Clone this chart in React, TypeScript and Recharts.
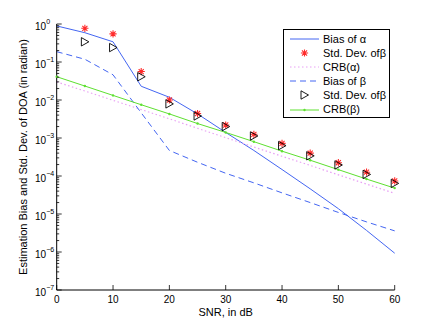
import React from 'react';
import { LineChart, Line, XAxis, YAxis, Legend } from 'recharts';

const snr = [0, 5, 10, 15, 20, 25, 30, 35, 40, 45, 50, 55, 60];
const biasAlpha = [0.89, 0.59, 0.34, 0.023, 0.0118, 0.0043, 0.0014, 4.7e-4, 1.48e-4, 4.6e-5, 1.38e-5, 3.7e-6, 9.3e-7];
const biasBeta = [0.187, 0.118, 0.046, 0.0046, 4.7e-4, 2.3e-4, 1.18e-4, 6.6e-5, 3.6e-5, 2.0e-5, 1.1e-5, 6.2e-6, 3.6e-6];
const crbAlpha = [0.03, 0.0172, 0.0098, 0.0056, 0.0032, 0.0018, 0.00102, 5.8e-4, 3.3e-4, 1.9e-4, 1.07e-4, 6.1e-5, 3.5e-5];
const crbBeta = [0.041, 0.0233, 0.0132, 0.0075, 0.0043, 0.0024, 0.0014, 8.0e-4, 4.5e-4, 2.6e-4, 1.47e-4, 8.3e-5, 4.8e-5];
const stdStar = [null, 0.77, 0.55, 0.056, 0.01, 0.0044, 0.0022, 0.00125, 7.2e-4, 4.0e-4, 2.24e-4, 1.26e-4, 7.4e-5];
const stdTri = [null, 0.34, 0.24, 0.041, 0.0079, 0.0038, 0.002, 0.00113, 6.3e-4, 3.4e-4, 1.95e-4, 1.1e-4, 6.4e-5];

const xTicks = [0, 10, 20, 30, 40, 50, 60];
const yDecades = [-7, -6, -5, -4, -3, -2, -1, 0];
const legendLabels = ['Bias of α', 'Std. Dev. ofβ', 'CRB(α)', 'Bias of β', 'Std. Dev. ofβ', 'CRB(β)'];
const xLabel = 'SNR, in dB';
const yLabel = 'Estimation Bias and Std. Dev. of DOA (in radian)';

const BLUE = '#4466f2';
const PINK = '#e8a0f4';
const GREEN = '#5ee030';
const RED = '#ff2a2a';
const FONT = '"Liberation Sans", Arial, Helvetica, sans-serif';

const data = snr.map((s, i) => ({
  snr: s,
  biasAlpha: biasAlpha[i],
  stdStar: stdStar[i],
  crbAlpha: crbAlpha[i],
  biasBeta: biasBeta[i],
  stdTri: stdTri[i],
  crbBeta: crbBeta[i],
}));

const yMajor = yDecades.map((d) => Number(`1e${d}`));
const yMinor: number[] = [];
yDecades.forEach((d) => {
  if (d < 0) {
    for (let m = 2; m <= 9; m++) yMinor.push(Number(`${m}e${d}`));
  }
});
const yAllTicks = [...yMajor, ...yMinor].sort((a, b) => a - b);
const isMajor = (v: number) => {
  const l = Math.log10(v);
  return Math.abs(l - Math.round(l)) < 1e-6;
};

const LeftTick = (props: any) => {
  const { x, y, payload } = props;
  const v = payload.value;
  const major = isMajor(v);
  const exp = Math.round(Math.log10(v));
  return (
    <g>
      <line x1={x} y1={y} x2={x + (major ? 5 : 2.5)} y2={y} stroke="#000" strokeWidth={0.8} />
      {major && (
        <text x={x - 21.7} y={y + 5.5} fontSize={10} fontFamily={FONT} fill="#000" textAnchor="start">
          <tspan>10</tspan>
          <tspan dy={-6} fontSize={7}>{exp === 0 ? '0' : `−${-exp}`}</tspan>
        </text>
      )}
    </g>
  );
};

const RightTick = (props: any) => {
  const { x, y, payload } = props;
  const major = isMajor(payload.value);
  return <line x1={x} y1={y} x2={x - (major ? 5 : 2.5)} y2={y} stroke="#000" strokeWidth={0.8} />;
};

const BottomTick = (props: any) => {
  const { x, y, payload } = props;
  return (
    <g>
      <line x1={x} y1={y} x2={x} y2={y - 5} stroke="#000" strokeWidth={0.8} />
      <text x={x} y={y + 12.7} fontSize={10} fontFamily={FONT} fill="#000" textAnchor="middle">
        {payload.value}
      </text>
    </g>
  );
};

const TopTick = (props: any) => {
  const { x, y } = props;
  return <line x1={x} y1={y} x2={x} y2={y + 5} stroke="#000" strokeWidth={0.8} />;
};

const starPath = (cx: number, cy: number, r: number) => {
  const d = r * 0.7071;
  return `M${cx - r},${cy}L${cx + r},${cy}M${cx},${cy - r}L${cx},${cy + r}M${cx - d},${cy - d}L${cx + d},${cy + d}M${cx - d},${cy + d}L${cx + d},${cy - d}`;
};
const triPath = (cx: number, cy: number) =>
  `M${cx - 3.5},${cy - 4.2}L${cx + 4},${cy}L${cx - 3.5},${cy + 4.2}Z`;

const StarDot = (props: any) => {
  const { cx, cy, index } = props;
  if (cx == null || cy == null || props.value == null) return <g key={`s${index}`} />;
  return <path key={`s${index}`} d={starPath(cx, cy, 3.6)} stroke={RED} strokeWidth={1.1} fill="none" />;
};
const TriDot = (props: any) => {
  const { cx, cy, index } = props;
  if (cx == null || cy == null || props.value == null) return <g key={`t${index}`} />;
  return <path key={`t${index}`} d={triPath(cx, cy)} stroke="#000" strokeWidth={0.9} fill="none" />;
};
const GreenDot = (props: any) => {
  const { cx, cy, index } = props;
  if (cx == null || cy == null) return <g key={`g${index}`} />;
  return <circle key={`g${index}`} cx={cx} cy={cy} r={1.2} fill={GREEN} />;
};

const legendTypes = ['solid', 'star', 'dotted', 'dashed', 'tri', 'green'];

const LegendBox = () => (
  <div
    style={{
      border: '1px solid #000',
      background: '#fff',
      width: 107,
      height: 89,
      boxSizing: 'border-box',
      paddingTop: 2,
      fontFamily: FONT,
      fontSize: 11,
      color: '#000',
      lineHeight: '14.1px',
    }}
  >
    {legendLabels.map((lab, i) => {
      const t = legendTypes[i];
      return (
        <div key={i} style={{ display: 'flex', alignItems: 'center', height: 14.1, whiteSpace: 'nowrap' }}>
          <svg width={39} height={14} style={{ display: 'block', flex: 'none' }}>
            {t === 'solid' && <line x1={6} y1={7} x2={35} y2={7} stroke={BLUE} strokeWidth={1} />}
            {t === 'dashed' && <line x1={6} y1={7} x2={35} y2={7} stroke={BLUE} strokeWidth={1} strokeDasharray="6 4" />}
            {t === 'dotted' && <line x1={6} y1={7} x2={35} y2={7} stroke={PINK} strokeWidth={1} strokeDasharray="1.5 2.5" />}
            {t === 'green' && (
              <g>
                <line x1={6} y1={7} x2={35} y2={7} stroke={GREEN} strokeWidth={1} />
                <circle cx={20.5} cy={7} r={1.2} fill={GREEN} />
              </g>
            )}
            {t === 'star' && <path d={starPath(20.5, 7, 3.6)} stroke={RED} strokeWidth={1.1} fill="none" />}
            {t === 'tri' && <path d={triPath(20.5, 7)} stroke="#000" strokeWidth={0.9} fill="none" />}
          </svg>
          <span>{lab}</span>
        </div>
      );
    })}
  </div>
);

export default function App() {
  return (
    <div style={{ position: 'absolute', left: 0, top: 0, width: 436, height: 327, background: '#fff' }}>
      <LineChart
        width={436}
        height={327}
        data={data}
        margin={{ top: 24, right: 41.3, bottom: 7, left: 0 }}
      >
        <XAxis
          dataKey="snr"
          type="number"
          domain={[0, 60]}
          ticks={xTicks}
          interval={0}
          height={30}
          tickSize={0}
          tickMargin={0}
          axisLine={{ stroke: '#000', strokeWidth: 1 }}
          tickLine={false}
          tick={<BottomTick />}
          label={(p: any) => {
            const vb = p.viewBox || {};
            const cx = (vb.x ?? 56.7) + (vb.width ?? 338) / 2;
            return (
              <text x={cx} y={315.5} fontSize={11} fontFamily={FONT} fill="#000" textAnchor="middle">
                {xLabel}
              </text>
            );
          }}
        />
        <XAxis
          xAxisId="top"
          dataKey="snr"
          orientation="top"
          type="number"
          domain={[0, 60]}
          ticks={xTicks}
          interval={0}
          height={0}
          tickSize={0}
          tickMargin={0}
          axisLine={{ stroke: '#000', strokeWidth: 1 }}
          tickLine={false}
          tick={<TopTick />}
        />
        <YAxis
          type="number"
          scale="log"
          domain={[1e-7, 1]}
          allowDataOverflow
          ticks={yAllTicks}
          interval={0}
          width={56.7}
          tickSize={0}
          tickMargin={0}
          axisLine={{ stroke: '#000', strokeWidth: 1 }}
          tickLine={false}
          tick={<LeftTick />}
          label={() => (
            <text
              x={0}
              y={0}
              transform={`translate(26.5, 157) rotate(-90)`}
              fontSize={11}
              fontFamily={FONT}
              fill="#000"
              textAnchor="middle"
            >
              {yLabel}
            </text>
          )}
        />
        <YAxis
          yAxisId="right"
          orientation="right"
          type="number"
          scale="log"
          domain={[1e-7, 1]}
          allowDataOverflow
          ticks={yAllTicks}
          interval={0}
          width={0}
          tickSize={0}
          tickMargin={0}
          axisLine={{ stroke: '#000', strokeWidth: 1 }}
          tickLine={false}
          tick={<RightTick />}
        />
        <Legend
          layout="vertical"
          align="center"
          verticalAlign="middle"
          content={() => <LegendBox />}
          wrapperStyle={{ left: 283, top: 29, width: 107, height: 89 }}
        />
        <Line dataKey="biasAlpha" stroke={BLUE} strokeWidth={1} dot={false} isAnimationActive={false} />
        <Line dataKey="stdStar" stroke="none" dot={<StarDot />} activeDot={false} isAnimationActive={false} />
        <Line dataKey="crbAlpha" stroke={PINK} strokeWidth={1.2} strokeDasharray="1.5 2.5" dot={false} isAnimationActive={false} />
        <Line dataKey="biasBeta" stroke={BLUE} strokeWidth={1} strokeDasharray="6 4" dot={false} isAnimationActive={false} />
        <Line dataKey="stdTri" stroke="none" dot={<TriDot />} activeDot={false} isAnimationActive={false} />
        <Line dataKey="crbBeta" stroke={GREEN} strokeWidth={1} dot={<GreenDot />} isAnimationActive={false} />
      </LineChart>
    </div>
  );
}
